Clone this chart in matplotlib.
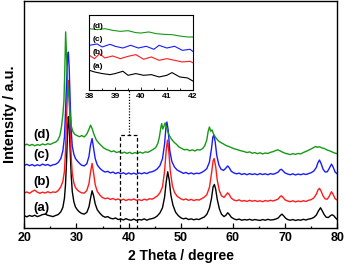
import matplotlib
matplotlib.use("Agg")
import matplotlib.pyplot as plt
from matplotlib.ticker import MultipleLocator

plt.rcParams['font.family'] = ['Liberation Sans', 'DejaVu Sans']

# ---- data (2 theta in degree, intensity in a.u., offsets included) ----
pattern_a = [(20.0,5.3),(20.5,4.8),(21.0,5.4),(21.5,5.0),(22.0,5.5),(22.5,4.9),(23.0,5.3),(23.5,5.8),(24.0,6.0),(24.5,5.5),(25.0,5.2),(25.5,4.9),(26.0,5.4),(26.5,5.8),(27.0,7.0),(27.4,9.0),(27.7,13),(27.9,19),(28.1,29),(28.3,43),(28.45,49),(28.6,45),(28.8,34),(29.0,23),(29.2,16),(29.5,11.5),(29.8,9.2),(30.2,7.8),(30.6,6.9),(31.0,6.3),(31.5,6.0),(32.0,6.8),(32.4,9.2),(32.7,13),(33.0,16.3),(33.3,14),(33.6,10.5),(34.0,7.9),(34.5,6.4),(35.0,5.2),(35.5,4.6),(36.0,4.9),(36.5,4.2),(37.0,3.9),(37.5,4.3),(38.0,3.6),(38.5,3.9),(39.0,3.4),(39.5,4.0),(40.0,3.5),(40.5,3.3),(41.0,3.8),(41.5,3.2),(42.0,3.6),(42.5,3.4),(43.0,3.9),(43.5,3.3),(44.0,3.8),(44.5,4.0),(45.0,4.4),(45.5,5.2),(46.0,6.5),(46.5,8.8),(46.9,13.5),(47.2,20),(47.5,24.7),(47.8,21),(48.1,14.5),(48.5,10),(49.0,6.9),(49.5,5.4),(50.0,4.4),(50.5,3.9),(51.0,4.2),(51.5,3.6),(52.0,3.9),(52.5,3.5),(53.0,3.8),(53.5,3.6),(54.0,4.2),(54.5,4.7),(55.0,5.9),(55.5,8.6),(55.9,13),(56.2,18),(56.45,19.1),(56.7,17),(57.0,12.5),(57.4,8.4),(57.8,6.0),(58.3,4.9),(58.7,5.6),(59.0,6.6),(59.3,5.9),(59.7,4.6),(60.2,3.9),(60.7,3.5),(61.2,3.8),(61.7,3.3),(62.2,3.6),(62.7,3.4),(63.2,3.7),(63.7,3.3),(64.2,3.6),(64.7,3.4),(65.2,3.2),(65.7,3.6),(66.2,3.3),(66.7,3.7),(67.2,3.4),(67.7,3.5),(68.2,3.8),(68.7,4.3),(69.1,5.4),(69.4,6.0),(69.7,5.3),(70.1,4.2),(70.5,3.6),(71.0,3.3),(71.5,3.6),(72.0,3.2),(72.5,3.5),(73.0,3.3),(73.5,3.7),(74.0,3.4),(74.5,3.8),(75.0,4.0),(75.5,4.5),(76.0,5.6),(76.4,7.4),(76.8,8.8),(77.1,7.6),(77.5,5.8),(77.9,4.6),(78.3,4.5),(78.7,5.3),(79.0,5.7),(79.3,5.4),(79.7,4.3),(80.0,3.6)]

pattern_b = [(20.0,15.3),(20.5,15.8),(21.0,15.2),(21.5,16.0),(22.0,16.6),(22.5,15.7),(23.0,15.2),(23.5,15.7),(24.0,15.3),(24.5,15.9),(25.0,15.4),(25.5,15.8),(26.0,15.6),(26.5,16.4),(27.0,18.0),(27.4,20.5),(27.7,25),(27.9,34),(28.1,48),(28.3,62),(28.45,65),(28.6,59),(28.8,44),(29.0,31),(29.2,24),(29.5,19.8),(29.8,17.8),(30.2,16.6),(30.6,15.9),(31.0,15.4),(31.5,15.3),(32.0,16.5),(32.4,19.5),(32.7,24.5),(33.0,28.4),(33.3,24),(33.6,19),(34.0,16.0),(34.5,14.4),(35.0,13.3),(35.5,12.8),(36.0,13.1),(36.5,12.5),(37.0,12.9),(37.5,12.3),(38.0,12.7),(38.5,12.1),(39.0,12.6),(39.5,12.0),(40.0,12.5),(40.5,12.2),(41.0,12.7),(41.5,12.1),(42.0,12.4),(42.5,12.0),(43.0,12.6),(43.5,12.2),(44.0,12.8),(44.5,12.6),(45.0,13.2),(45.5,14.0),(46.0,15.4),(46.5,18),(46.9,25),(47.2,34),(47.45,38.7),(47.7,34),(48.0,25),(48.4,18.5),(48.8,15.6),(49.3,13.9),(50.0,12.8),(50.5,12.3),(51.0,12.7),(51.5,12.1),(52.0,12.5),(52.5,12.0),(53.0,12.4),(53.5,12.2),(54.0,12.8),(54.5,13.5),(55.0,14.6),(55.5,17.8),(55.9,24),(56.2,29.5),(56.4,30.6),(56.7,27),(57.0,21),(57.4,16.4),(57.8,14.1),(58.3,13.4),(58.7,14.5),(59.0,15.4),(59.3,14.6),(59.7,13.0),(60.2,12.2),(60.7,11.9),(61.2,12.3),(61.7,11.7),(62.2,12.0),(62.7,11.6),(63.2,12.1),(63.7,11.7),(64.2,12.0),(64.7,11.6),(65.2,11.9),(65.7,11.5),(66.2,12.0),(66.7,11.7),(67.2,12.1),(67.7,11.8),(68.2,12.2),(68.7,12.7),(69.0,13.6),(69.3,14.1),(69.6,13.4),(70.0,12.3),(70.5,11.8),(71.0,11.5),(71.5,11.9),(72.0,11.4),(72.5,11.8),(73.0,11.5),(73.5,11.9),(74.0,11.6),(74.5,12.1),(75.0,12.4),(75.5,13.1),(76.0,14.8),(76.3,16.6),(76.6,17.4),(76.9,16.2),(77.3,14.0),(77.7,12.7),(78.1,12.6),(78.5,14.0),(78.9,15.9),(79.2,14.8),(79.6,12.8),(80.0,12.2)]

pattern_c = [(20.0,27.5),(20.5,28.0),(21.0,27.4),(21.5,27.9),(22.0,27.3),(22.5,27.8),(23.0,27.4),(23.5,28.1),(24.0,27.6),(24.5,27.9),(25.0,27.3),(25.5,27.8),(26.0,28.0),(26.5,28.8),(27.0,30.5),(27.4,34),(27.7,40),(27.9,51),(28.1,64),(28.3,75),(28.45,77.6),(28.6,71),(28.8,56),(29.0,43),(29.2,36),(29.5,32.5),(29.8,30.6),(30.2,29.4),(30.6,28.4),(31.0,27.6),(31.5,27.3),(32.0,28.3),(32.4,31.5),(32.7,36.5),(33.0,39.4),(33.3,35),(33.6,30.5),(34.0,27.7),(34.5,26.2),(35.0,25.2),(35.5,24.6),(36.0,24.9),(36.5,24.2),(37.0,24.6),(37.5,23.9),(38.0,24.4),(38.5,23.8),(39.0,24.3),(39.5,23.6),(40.0,24.2),(40.5,23.7),(41.0,24.1),(41.5,23.6),(42.0,24.2),(42.5,23.8),(43.0,24.3),(43.5,23.9),(44.0,24.5),(44.5,24.7),(45.0,25.2),(45.5,26.0),(46.0,27.4),(46.5,30.5),(46.9,37),(47.15,44),(47.35,46.7),(47.6,43),(47.9,34),(48.3,29.2),(48.8,26.8),(49.3,25.5),(50.0,24.6),(50.5,24.0),(51.0,24.4),(51.5,23.8),(52.0,24.2),(52.5,23.7),(53.0,24.1),(53.5,23.9),(54.0,24.4),(54.5,25.1),(55.0,26.1),(55.5,29),(55.9,35),(56.15,40),(56.35,40.9),(56.6,38),(56.9,32),(57.3,27.8),(57.7,25.9),(58.2,25.3),(58.6,26.2),(59.0,27.3),(59.3,26.5),(59.7,24.9),(60.2,24.2),(60.7,23.8),(61.2,24.1),(61.7,23.5),(62.2,23.9),(62.7,23.4),(63.2,23.9),(63.7,23.5),(64.2,23.8),(64.7,23.4),(65.2,23.9),(65.7,23.5),(66.2,23.8),(66.7,23.4),(67.2,23.9),(67.7,23.6),(68.2,24.0),(68.7,24.6),(69.0,25.5),(69.3,25.8),(69.6,25.1),(70.0,24.2),(70.5,23.7),(71.0,23.4),(71.5,23.8),(72.0,23.3),(72.5,23.7),(73.0,23.4),(73.5,23.8),(74.0,23.5),(74.5,23.9),(75.0,24.3),(75.5,25.0),(76.0,26.6),(76.3,28.7),(76.6,29.9),(76.9,28.4),(77.3,25.8),(77.7,24.6),(78.1,24.7),(78.5,26.3),(78.9,28.1),(79.2,26.9),(79.6,24.6),(80.0,23.8)]

pattern_d = [(20.0,36.4),(20.5,36.9),(21.0,36.3),(21.5,36.8),(22.0,36.2),(22.5,36.7),(23.0,36.4),(23.5,37.0),(24.0,36.6),(24.5,37.1),(25.0,36.8),(25.5,37.4),(26.0,37.8),(26.4,38.6),(26.8,40.5),(27.1,44),(27.4,50),(27.6,56),(27.75,68),(27.93,86.5),(28.1,76),(28.3,64),(28.55,58),(28.8,50),(29.0,45),(29.3,42.5),(29.7,41.2),(30.2,40.6),(30.6,40.2),(31.0,40.7),(31.5,40.1),(32.0,41.4),(32.4,43.5),(32.7,45.3),(33.0,43.8),(33.4,41.0),(33.8,38.8),(34.2,37.6),(34.7,36.4),(35.2,35.3),(35.7,34.6),(36.2,34.2),(36.7,33.6),(37.2,33.9),(37.7,33.2),(38.2,33.6),(38.7,32.9),(39.2,33.4),(39.7,32.8),(40.2,33.3),(40.7,32.7),(41.2,33.2),(41.7,32.8),(42.2,33.4),(42.7,32.9),(43.2,33.5),(43.7,33.3),(44.2,33.9),(44.7,34.6),(45.2,35.4),(45.6,37.2),(45.9,40),(46.2,44.5),(46.35,46),(46.55,43.6),(46.8,45),(47.0,46.3),(47.2,44.8),(47.5,42.5),(47.8,40.8),(48.2,39.2),(48.7,37.8),(49.2,36.8),(49.7,35.6),(50.2,35.0),(50.7,34.4),(51.2,34.6),(51.7,34.0),(52.2,34.4),(52.7,33.9),(53.2,34.5),(53.7,34.3),(54.2,35.0),(54.6,36.2),(55.0,38.8),(55.25,42.5),(55.5,44.5),(55.75,42.6),(56.0,43.2),(56.3,41.3),(56.7,39.8),(57.2,38.4),(57.7,37.6),(58.2,37.0),(58.7,36.3),(59.2,35.9),(59.7,35.4),(60.2,34.9),(60.7,34.6),(61.2,34.2),(61.7,33.9),(62.2,33.6),(62.7,33.2),(63.2,33.5),(63.7,32.9),(64.2,33.2),(64.7,32.7),(65.2,33.1),(65.7,32.6),(66.2,33.0),(66.7,32.8),(67.2,33.3),(67.7,33.6),(68.2,34.1),(68.6,34.4),(69.0,34.0),(69.5,33.4),(70.0,32.9),(70.5,32.6),(71.0,32.3),(71.5,32.7),(72.0,32.4),(72.5,32.8),(73.0,32.6),(73.5,33.2),(74.0,33.7),(74.5,34.2),(75.0,34.8),(75.5,35.4),(75.9,35.9),(76.2,35.5),(76.6,35.8),(77.0,35.3),(77.5,35.0),(78.0,34.4),(78.5,34.0),(79.0,33.5),(79.5,33.0),(80.0,32.7)]

# inset (38-42 degree, magnified)
inset_a = [(38.0,26.3),(38.2,24.1),(38.5,21.9),(38.8,20.5),(39.0,21.9),(39.3,25.0),(39.5,19.6),(39.8,21.9),(40.1,19.6),(40.4,20.5),(40.7,17.4),(41.0,19.6),(41.2,23.2),(41.5,17.4),(41.8,16.1),(42.0,12.1)]
inset_b = [(38.0,46.3),(38.2,41.8),(38.4,48.5),(38.6,42.7),(38.9,45.4),(39.2,41.8),(39.5,44.9),(39.8,47.2),(40.1,41.0),(40.4,44.1),(40.7,39.6),(41.0,41.8),(41.3,39.6),(41.6,37.4),(41.9,38.3),(42.0,36.5)]
inset_c = [(38.0,59.6),(38.3,61.4),(38.5,57.4),(38.8,60.9),(39.0,58.3),(39.3,56.0),(39.6,59.6),(39.9,56.0),(40.2,58.3),(40.5,54.3),(40.7,59.6),(41.0,56.0),(41.3,58.3),(41.6,52.9),(41.9,54.3),(42.0,51.6)]
inset_d = [(38.0,81.8),(38.3,80.5),(38.6,81.8),(38.9,79.6),(39.2,78.2),(39.5,79.1),(39.8,76.5),(40.0,76.0),(40.3,77.4),(40.6,75.1),(40.9,74.2),(41.2,73.8),(41.5,72.0),(41.8,70.7),(42.0,70.7)]

series_labels = ['(a)', '(b)', '(c)', '(d)']
series_colors = ['#000000', '#ff1a1a', '#1a1aff', '#159a15']
x_ticks = [20, 30, 40, 50, 60, 70, 80]
inset_ticks = [38, 39, 40, 41, 42]

main_series = [pattern_a, pattern_b, pattern_c, pattern_d]
inset_series = [inset_a, inset_b, inset_c, inset_d]

fig = plt.figure(figsize=(3.45, 2.74), dpi=100)
ax = fig.add_axes([0.0704, 0.169, 0.907, 0.826])

for data, col in zip(main_series, series_colors):
    xs = [p[0] for p in data]
    ys = [p[1] for p in data]
    ax.plot(xs, ys, color=col, lw=1.0)

ax.set_xlim(20, 80)
ax.set_ylim(0, 100)
ax.set_xticks(x_ticks)
ax.xaxis.set_minor_locator(MultipleLocator(5))
ax.set_yticks([])
ax.tick_params(axis='x', which='major', direction='in', length=3.6, width=0.9,
               labelsize=9, pad=3)
ax.tick_params(axis='x', which='minor', direction='in', length=1.8, width=0.9)
for lab in ax.get_xticklabels():
    lab.set_fontweight('bold')
for sp in ax.spines.values():
    sp.set_linewidth(1.0)

ax.set_xlabel('2 Theta / degree', fontsize=10, fontweight='bold', labelpad=4)
ax.set_ylabel('Intensity / a.u.', fontsize=10.5, fontweight='bold', labelpad=5)

label_y = [8.7, 20.1, 32.0, 40.9]
for lab, yv in zip(series_labels, label_y):
    ax.text(21.65, yv, lab, fontsize=9.5, fontweight='bold', ha='left', va='center')

# dashed box and dotted connector
ax.plot([38.33, 38.33, 41.7, 41.7], [0, 40.9, 40.9, 0], color='black', lw=0.9,
        ls=(0, (3, 2)))
ax.plot([40.0, 40.0], [40.9, 60.7], color='black', lw=0.9, ls=(0, (1, 1.3)))

# inset
ins = fig.add_axes([0.2588, 0.6715, 0.2997, 0.2737])
for data, col in zip(inset_series, series_colors):
    xs = [p[0] for p in data]
    ys = [p[1] for p in data]
    ins.plot(xs, ys, color=col, lw=0.8)
ins.set_xlim(38, 42)
ins.set_ylim(0, 100)
ins.set_xticks(inset_ticks)
ins.xaxis.set_minor_locator(MultipleLocator(0.5))
ins.set_yticks([])
ins.tick_params(axis='x', which='major', direction='in', length=2.2, width=0.6,
                labelsize=6, pad=2)
ins.tick_params(axis='x', which='minor', direction='in', length=1.2, width=0.6)
for lab in ins.get_xticklabels():
    lab.set_fontweight('bold')
for sp in ins.spines.values():
    sp.set_linewidth(0.8)

inset_label_y = [0.307, 0.497, 0.676, 0.853]
for lab, yv in zip(series_labels, inset_label_y):
    ins.text(0.03, yv, lab, transform=ins.transAxes, fontsize=6,
             fontweight='bold', ha='left', va='center')

fig.savefig('out.png', dpi=100)
